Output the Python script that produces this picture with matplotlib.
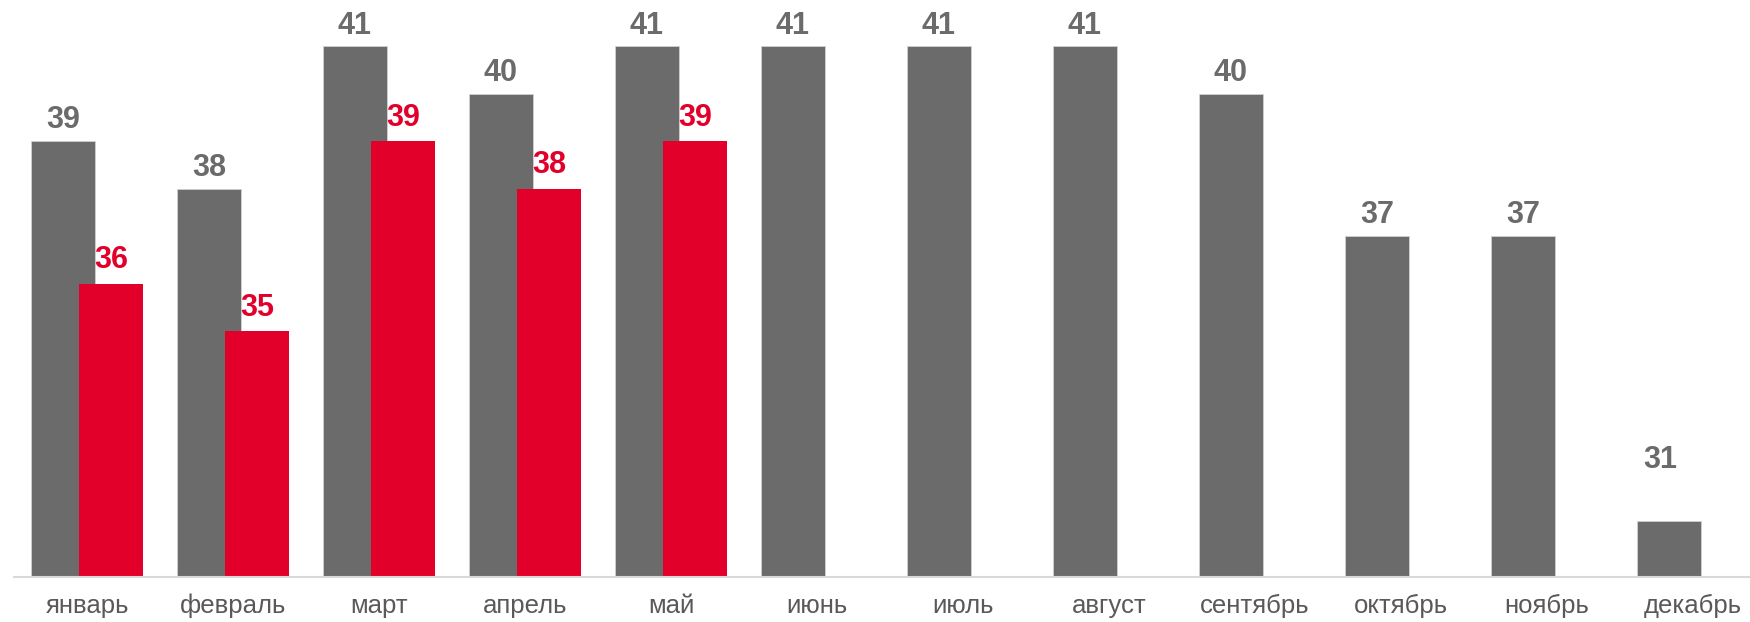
import matplotlib
matplotlib.use("Agg")
import matplotlib.pyplot as plt
import numpy as np

meses = ["январь", "февраль", "март", "апрель", "май", "июнь", "июль",
         "август", "сентябрь", "октябрь", "ноябрь", "декабрь"]
serie_gris = [39, 38, 41, 40, 41, 41, 41, 41, 40, 37, 37, 31]
serie_roja = [36, 35, 39, 38, 39]

GRIS = "#6b6b6b"
ROJO = "#e2002b"
ANCHO = 0.44
DESPL = 0.165

plt.rcParams["font.family"] = ["Liberation Sans", "DejaVu Sans"]

fig = plt.figure(figsize=(17.5, 6.22), dpi=100)
ax = fig.add_axes([14 / 1750, 1 - 577 / 622, 1752 / 1750, 577 / 622])

x = np.arange(len(meses))
xr = np.arange(len(serie_roja))
ax.bar(x - DESPL, serie_gris, width=ANCHO, color=GRIS, edgecolor="#d0d0d0",
       linewidth=0.6, zorder=2)
ax.bar(xr + DESPL, serie_roja, width=ANCHO, color=ROJO, zorder=3)

for i, v in enumerate(serie_gris):
    # la etiqueta de diciembre va bastante más arriba en el original
    if i == len(serie_gris) - 1:
        ax.annotate(f"{v}", (i - DESPL, v), xytext=(-6, 33), textcoords="offset points",
                    ha="center", va="bottom", fontsize=22, fontweight="bold", color=GRIS)
    else:
        ax.annotate(f"{v}", (i - DESPL, v), xytext=(0, 4), textcoords="offset points",
                    ha="center", va="bottom", fontsize=22, fontweight="bold", color=GRIS)
for i, v in enumerate(serie_roja):
    ax.annotate(f"{v}", (i + DESPL, v), xytext=(0, 6), textcoords="offset points",
                ha="center", va="bottom", fontsize=22, fontweight="bold", color=ROJO)

ax.set_xlim(-0.5, 11.5)
ax.set_ylim(29.82, 41.97)
ax.set_xticks(x)
ax.set_xticklabels(meses, fontsize=18.5, color="#595959")
ax.tick_params(axis="x", length=0, pad=12)
ax.set_yticks([])
for lado in ["top", "right", "left"]:
    ax.spines[lado].set_visible(False)
ax.spines["bottom"].set_color("#d9d9d9")
ax.spines["bottom"].set_linewidth(1.5)
ax.spines["bottom"].set_zorder(4)

fig.savefig("out.png", dpi=100, facecolor="white")
